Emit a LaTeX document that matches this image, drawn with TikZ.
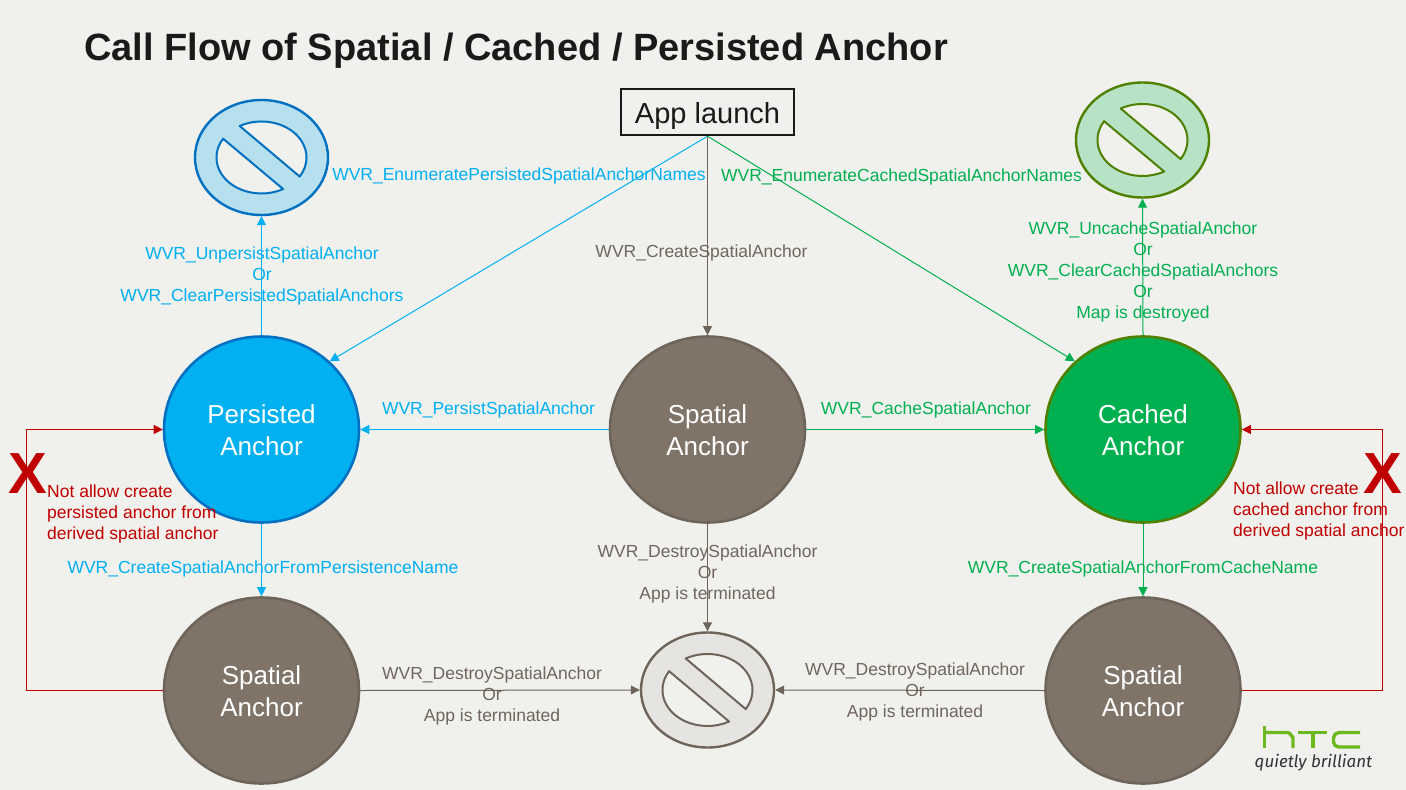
\documentclass[tikz,border=0pt]{standalone}
\usepackage{fontspec}
\setmainfont{Liberation Sans}
\newfontfamily\tagfont{Fira Sans}
\usetikzlibrary{arrows.meta,shapes.geometric}
\definecolor{pageBg}{HTML}{F0F0EC}
\definecolor{blueFlow}{HTML}{00B0F0}
\definecolor{blueEdge}{HTML}{0070C0}
\definecolor{blueTint}{HTML}{B7E0EF}
\definecolor{greenFlow}{HTML}{00B050}
\definecolor{greenEdge}{HTML}{4F8000}
\definecolor{greenTint}{HTML}{B7E2C6}
\definecolor{stone}{HTML}{807468}
\definecolor{stoneEdge}{HTML}{6E645A}
\definecolor{stoneTint}{HTML}{E6E4E1}
\definecolor{stoneText}{HTML}{6F665E}
\definecolor{alarm}{HTML}{C00000}
\definecolor{htcGreen}{HTML}{6CB81E}
\definecolor{tagInk}{HTML}{333333}
\definecolor{inkBlack}{HTML}{1A1A1A}
\tikzset{
  x=1pt,y=-1pt,
  flow/.style={line width=1pt,-{Triangle[length=9pt,width=9pt]}},
  anchorDisc/.style={ellipse,minimum width=195pt,minimum height=186pt,inner sep=0pt,line width=2.6pt,text=white,align=center,
    font=\fontsize{26}{32}\selectfont},
  stoneDisc/.style={anchorDisc,fill=stone,draw=stoneEdge},
  banSign/.style={ellipse,minimum width=133pt,minimum height=115pt,inner sep=0pt,line width=2.4pt},
  note/.style={align=center,font=\fontsize{17.5}{21}\selectfont},
  warn/.style={align=left,text=alarm,font=\fontsize{17.5}{21}\selectfont,anchor=north west,inner sep=0pt},
  cross/.style={text=alarm,font=\fontsize{58}{58}\selectfont\bfseries,inner sep=0pt},
}
% Two-line disc caption; the strut sets the first line slightly lower
\newcommand{\disccap}[2]{\rule{0pt}{21pt}#1\\#2}
% Prohibition sign: a tinted ellipse with two page-coloured half-lenses cut out of it
\newcommand{\bansign}[5]{%
  \node[banSign,fill=#4,draw=#5] (#1) at (#2,#3) {};
  \begin{scope}[shift={(#1.center)}]
    \draw[fill=pageBg,draw=#5,line width=2pt,line join=round]
      (-21.8,-31.5) arc[start angle=-119,end angle=32,x radius=45,y radius=36] -- cycle;
    \draw[fill=pageBg,draw=#5,line width=2pt,line join=round]
      (-38.4,-18.8) arc[start angle=211.5,end angle=61.2,x radius=45,y radius=36] -- cycle;
  \end{scope}}
\begin{document}
\begin{tikzpicture}
\useasboundingbox (0,0) rectangle (1406,790);
\fill[pageBg] (0,0) rectangle (1406,790);

\node[anchor=west,inner sep=0pt,text=inkBlack,font=\fontsize{38}{42}\selectfont\bfseries] (title) at (84,51)
  {Call Flow of Spatial / Cached / Persisted Anchor};

\node[draw=inkBlack,line width=2.4pt,fill=pageBg,minimum width=173pt,minimum height=46pt,inner sep=0pt,
  text height=29pt,text depth=6pt,text=inkBlack,font=\fontsize{29}{32}\selectfont] (app) at (707.5,112) {App launch};

\node[anchorDisc,fill=blueFlow,draw=blueEdge] (pers) at (261.5,429.5) {\disccap{Persisted}{Anchor}};
\node[stoneDisc] (spat) at (707.5,429.5) {\disccap{Spatial}{Anchor}};
\node[anchorDisc,fill=greenFlow,draw=greenEdge] (cach) at (1143,429.5) {\disccap{Cached}{Anchor}};
\node[stoneDisc] (spatL) at (261.5,690.5) {\disccap{Spatial}{Anchor}};
\node[stoneDisc] (spatR) at (1143,690.5) {\disccap{Spatial}{Anchor}};

\bansign{banL}{261.5}{157.5}{blueTint}{blueEdge}
\bansign{banR}{1142.5}{140}{greenTint}{greenEdge}
\bansign{banC}{707.5}{690}{stoneTint}{stoneEdge}

% Connectors
\draw[flow,blueFlow] (app.south) -- (pers.45);
\draw[flow,stoneEdge] (app.south) -- (spat.north);
\draw[flow,greenFlow] (app.south) -- (cach.135);
\draw[flow,blueFlow] (pers.north) -- (banL.south);
\draw[flow,greenFlow] (cach.north) -- (banR.south);
\draw[flow,blueFlow] (spat.west) -- (pers.east);
\draw[flow,greenFlow] (spat.east) -- (cach.west);
\draw[flow,blueFlow] (pers.south) -- (spatL.north);
\draw[flow,greenFlow] (cach.south) -- (spatR.north);
\draw[flow,stoneEdge] (spat.south) -- (banC.north);
\draw[flow,stoneEdge] (spatL.east) -- (banC.west);
\draw[flow,stoneEdge] (spatR.west) -- (banC.east);
\coordinate (loopL) at (26,690.5);
\coordinate (loopR) at (1382,690.5);
\draw[flow,alarm] (spatL.west) -- (loopL) |- (pers.west);
\draw[flow,alarm] (spatR.east) -- (loopR) |- (cach.east);

% Connector captions
\node[note,text=blueFlow] (t1) at (519,176) {WVR\_EnumeratePersistedSpatialAnchorNames};
\node[note,text=greenFlow] (t2) at (901.5,177) {WVR\_EnumerateCachedSpatialAnchorNames};
\node[note,text=blueFlow] (t3) at (262,276) {WVR\_UnpersistSpatialAnchor\\Or\\WVR\_ClearPersistedSpatialAnchors};
\node[note,text=stoneText] (t4) at (701.5,253) {WVR\_CreateSpatialAnchor};
\node[note,text=greenFlow] (t5) at (1143,272) {WVR\_UncacheSpatialAnchor\\Or\\WVR\_ClearCachedSpatialAnchors\\Or\\Map is destroyed};
\node[note,text=blueFlow] (t6) at (488.5,410) {WVR\_PersistSpatialAnchor};
\node[note,text=greenFlow] (t7) at (926,410) {WVR\_CacheSpatialAnchor};
\node[note,text=blueFlow] (t8) at (263,569) {WVR\_CreateSpatialAnchorFromPersistenceName};
\node[note,text=greenFlow] (t9) at (1143,569) {WVR\_CreateSpatialAnchorFromCacheName};
\node[note,text=stoneText] (t10) at (707.5,574) {WVR\_DestroySpatialAnchor\\Or\\App is terminated};
\node[note,text=stoneText] (t11) at (492,696) {WVR\_DestroySpatialAnchor\\Or\\App is terminated};
\node[note,text=stoneText] (t12) at (915,692) {WVR\_DestroySpatialAnchor\\Or\\App is terminated};

% Forbidden paths
\node[cross] (xL) at (28,474) {X};
\node[cross] (xR) at (1383,474) {X};
\node[warn] (w1) at (47,485) {Not allow create\\persisted anchor from\\derived spatial anchor};
\node[warn] (w2) at (1233,482) {Not allow create\\cached anchor from\\derived spatial anchor};

% Brand mark
\begin{scope}[htcGreen,line width=3.4pt,line join=round]
  \draw (1264.5,726) -- (1264.5,748);
  \draw (1264.5,732.5) -- (1288,732.5) to[out=0,in=-90] (1293,737) -- (1293,748);
  \draw (1298,732.5) -- (1327,732.5);
  \draw (1313,732.5) -- (1313,748);
  \draw (1360,732.5) -- (1339,732.5) to[out=180,in=90] (1333.5,738) -- (1333.5,742) to[out=-90,in=180] (1339,747) -- (1360,747);
\end{scope}
\node[text=tagInk,inner sep=0pt,font=\tagfont\itshape\fontsize{17}{18}\selectfont] (tag) at (1313.5,763) {quietly brilliant};
\end{tikzpicture}
\end{document}
